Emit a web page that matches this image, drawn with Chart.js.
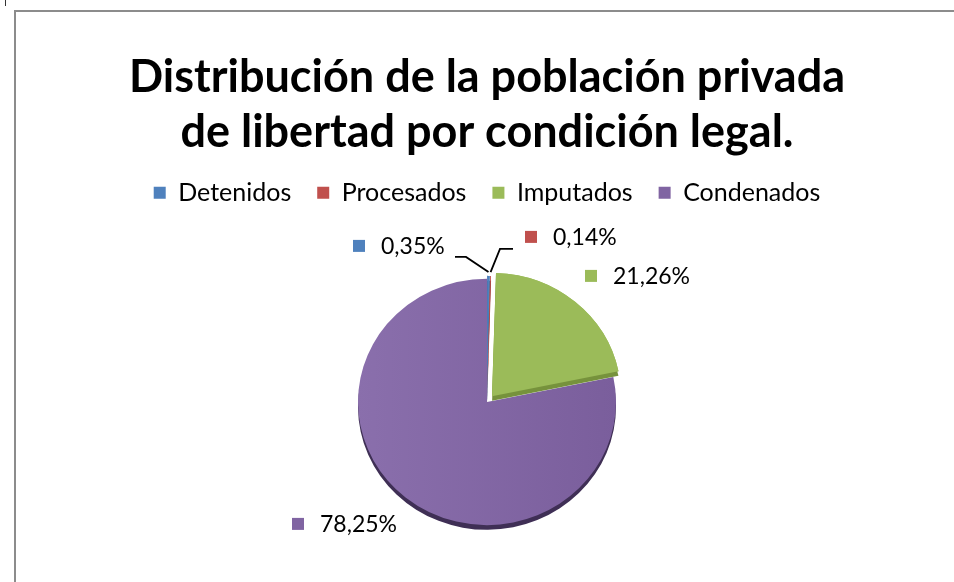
<!DOCTYPE html>
<html><head><meta charset="utf-8">
<script src="https://cdn.jsdelivr.net/npm/chart.js@4.4.1/dist/chart.umd.min.js"></script>
<style>
html,body{margin:0;padding:0;background:#fff;overflow:hidden;width:954px;height:582px;}
#frame{position:absolute;left:14px;top:10px;width:960px;height:600px;border-top:2px solid #8c8c8c;border-left:2px solid #8c8c8c;}
#tick{position:absolute;left:5px;top:0;width:1px;height:6px;background:#333;}
#wrap{position:absolute;left:0;top:0;width:954px;height:640px;}
</style></head><body>
<div id="tick"></div>
<div id="frame"></div>
<div id="wrap"><canvas id="c"></canvas></div>
<script>
const titleLines = ['Distribución de la población privada', 'de libertad por condición legal.'];
const categories = ['Detenidos', 'Procesados', 'Imputados', 'Condenados'];
const values = [0.35, 0.14, 21.26, 78.25];
const valueLabels = ['0,35%', '0,14%', '21,26%', '78,25%'];
const colors = ['#4F81BD', '#C0504D', '#9BBB59', '#8064A2'];
const sideColors = ['#3A6396', '#943C3A', '#76923C', '#3F2F55'];

const FONT = 'Lato';
const yScale = 0.955;
const sideDepth = 5;

function arcShift(arc) {
  const off = (arc.options.offset || 0) / 4;
  const p = arc.getProps(['startAngle', 'endAngle', 'circumference']);
  const half = (p.startAngle + p.endAngle) / 2;
  const fix = 1 - Math.sin(Math.min(Math.PI, p.circumference || 0));
  const d = off + off * fix;
  return {dx: Math.cos(half) * d, dy: Math.sin(half) * d};
}
function drawSide(ctx, arc, i) {
  const p = arc.getProps(['x', 'y', 'startAngle', 'endAngle', 'outerRadius']);
  const s = arcShift(arc);
  const ox = p.x + s.dx, oy = p.y + s.dy + sideDepth;
  ctx.beginPath();
  ctx.moveTo(ox, oy);
  ctx.arc(ox, oy, p.outerRadius, p.startAngle, p.endAngle);
  ctx.closePath();
  ctx.fillStyle = sideColors[i];
  ctx.fill();
}

// label layout relative to pie centre (square centre, leader elbow points)
const labelLayout = [
  {dx: -128, dy: -156, leader: [[-21, -145], [-32, -145]]},
  {dx: 44, dy: -165, leader: [[13, -153], [26, -153]]},
  {dx: 104, dy: -126},
  {dx: -189, dy: 122}
];

const pie3d = {
  id: 'pie3d',
  beforeDatasetsDraw(chart) {
    const meta = chart.getDatasetMeta(0);
    const ctx = chart.ctx;
    const a0 = meta.data[0];
    if (!a0) return;
    ctx.save();
    ctx.translate(a0.x, a0.y); ctx.scale(1, yScale); ctx.translate(-a0.x, -a0.y);
    meta.data.forEach((arc, i) => { if (!(arc.options.offset > 0)) drawSide(ctx, arc, i); });
  },
  afterDatasetsDraw(chart) {
    const meta = chart.getDatasetMeta(0);
    const ctx = chart.ctx;
    const a0 = meta.data[0];
    if (!a0) return;
    meta.data.forEach((arc, i) => { if (arc.options.offset > 0) { drawSide(ctx, arc, i); arc.draw(ctx); } });
    ctx.restore();
    const cx = a0.x, cy = a0.y;
    ctx.save();
    ctx.font = '23px ' + FONT;
    ctx.textBaseline = 'middle';
    ctx.textAlign = 'left';
    meta.data.forEach((arc, i) => {
      const L = labelLayout[i];
      const sx = cx + L.dx, sy = cy + L.dy;
      ctx.fillStyle = colors[i];
      ctx.fillRect(sx - 6, sy - 6, 12, 12);
      ctx.fillStyle = '#000';
      ctx.fillText(valueLabels[i], sx + 22, sy + 1);
      if (L.leader) {
        const p = arc.getProps(['startAngle', 'endAngle', 'outerRadius']);
        const mid = (p.startAngle + p.endAngle) / 2;
        const r = p.outerRadius + 7;
        ctx.beginPath();
        ctx.moveTo(cx + Math.cos(mid) * r, cy + Math.sin(mid) * r * yScale);
        L.leader.forEach(pt => ctx.lineTo(cx + pt[0], cy + pt[1]));
        ctx.strokeStyle = '#000';
        ctx.lineWidth = 1.8;
        ctx.stroke();
      }
    });
    ctx.restore();
  }
};

new Chart(document.getElementById('c'), {
  type: 'pie',
  data: {
    labels: categories,
    datasets: [{
      data: values,
      backgroundColor: (c) => {
        if (c.dataIndex === 3) {
          const ca = c.chart.chartArea;
          if (!ca) return colors[3];
          const mx = (ca.left + ca.right) / 2;
          const g = c.chart.ctx.createLinearGradient(mx - 130, 0, mx + 130, 0);
          g.addColorStop(0, '#8A6FAC');
          g.addColorStop(1, '#7A5E9C');
          return g;
        }
        return colors[c.dataIndex];
      },
      borderWidth: 0,
      offset: [6, 6, 31, 0],
      radius: 129
    }]
  },
  options: {
    responsive: true,
    maintainAspectRatio: false,
    animation: false,
    layout: {padding: {left: 20, right: 0, top: 0, bottom: 51.5}},
    plugins: {
      title: {
        display: true,
        text: titleLines,
        color: '#000',
        font: {family: FONT, size: 45, weight: 'bold', lineHeight: 1.22},
        padding: {top: 50, bottom: -5.5}
      },
      legend: {
        display: true,
        position: 'top',
        labels: {
          color: '#000',
          font: {family: FONT, size: 25},
          boxWidth: 12,
          boxHeight: 12,
          padding: 26,
          generateLabels: (chart) => {
            const base = Chart.overrides.pie.plugins.legend.labels.generateLabels(chart);
            return base.map((it, i) => Object.assign(it, {fillStyle: colors[i], strokeStyle: colors[i], lineWidth: 0}));
          }
        }
      },
      tooltip: {enabled: false}
    }
  },
  plugins: [pie3d]
});
</script>
</body></html>
